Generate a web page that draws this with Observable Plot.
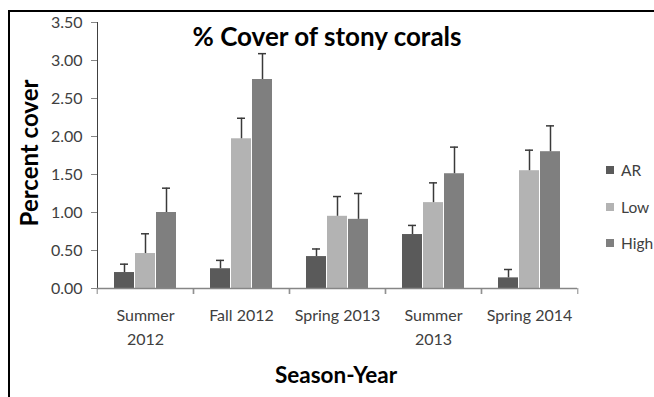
<!DOCTYPE html>
<html>
<head>
<meta charset="utf-8">
<script src="https://cdn.jsdelivr.net/npm/d3@7"></script>
<script src="https://cdn.jsdelivr.net/npm/@observablehq/plot@0.6"></script>
<style>
  html, body { margin: 0; padding: 0; background: #fff; }
  #wrap { position: relative; width: 654px; height: 397px; overflow: hidden; font-family: Lato, "Open Sans", sans-serif; }
  #frame { position: absolute; left: 8px; top: 10px; right: -5px; bottom: -5px; border-top: 2px solid #000; border-left: 2px solid #000; }
  #plot { position: absolute; left: 0; top: 0; }
  .ov { position: absolute; white-space: nowrap; line-height: 1; }
  #title { left: 0; width: 654px; text-align: center; top: 23px; font-size: 26px; font-weight: 700; color: #000; }
  #ylab { left: 29px; top: 153px; font-size: 24px; font-weight: 700; color: #000; transform: translate(-50%, -50%) rotate(-90deg); }
  #xlab { left: 336px; top: 375px; font-size: 22.5px; font-weight: 700; color: #000; transform: translate(-50%, -50%); }
  .leg { position: absolute; left: 606px; font-size: 15.5px; color: #404040; display: flex; align-items: center; transform: translateY(-50%); }
  .leg span.sw { display: inline-block; width: 8px; height: 8px; margin-right: 7px; }
</style>
</head>
<body>
<div id="wrap">
  <div id="frame"></div>
  <div id="plot"></div>
  <div id="title" class="ov"></div>
  <div id="ylab" class="ov"></div>
  <div id="xlab" class="ov"></div>
  <div id="legend"></div>
</div>
<script>
// ---- data ----
const titleText = "% Cover of stony corals";
const yLabel = "Percent cover";
const xLabel = "Season-Year";
const seasons = ["Summer 2012", "Fall 2012", "Spring 2013", "Summer 2013", "Spring 2014"];
const seasonTickLabels = ["Summer\n2012", "Fall 2012", "Spring 2013", "Summer\n2013", "Spring 2014"];
const series = ["AR", "Low", "High"];
const seriesColors = ["#5a5a5a", "#b3b3b3", "#7f7f7f"];
const arMean   = [0.21, 0.26, 0.42, 0.71, 0.14];
const arErr    = [0.11, 0.11, 0.10, 0.12, 0.11];
const lowMean  = [0.46, 1.97, 0.95, 1.13, 1.55];
const lowErr   = [0.26, 0.27, 0.26, 0.26, 0.27];
const highMean = [1.00, 2.75, 0.91, 1.51, 1.80];
const highErr  = [0.32, 0.34, 0.34, 0.35, 0.34];
const yTicks = [0, 0.5, 1, 1.5, 2, 2.5, 3, 3.5];

const means = {AR: arMean, Low: lowMean, High: highMean};
const errs = {AR: arErr, Low: lowErr, High: highErr};
const data = [];
seasons.forEach((s, i) => series.forEach(k => data.push({season: s, series: k, value: means[k][i], upper: means[k][i] + errs[k][i]})));

const W = 654, H = 397, mL = 95, mR = 76, mT = 22, mB = 109;
const bw = (W - mL - mR) / seasons.length;
const axisColor = "#868686";
const labelColor = "#404040";

const chart = Plot.plot({
  width: W, height: H,
  marginLeft: mL, marginRight: mR, marginTop: mT, marginBottom: mB,
  style: {fontFamily: "Lato, 'Open Sans', sans-serif", fontSize: "16px", color: labelColor, background: "transparent", overflow: "visible"},
  fx: {domain: seasons, padding: 0, label: null, axis: null},
  x: {domain: series, paddingInner: 0.04, paddingOuter: 0.75, axis: null},
  y: {domain: [0, 3.5], ticks: yTicks, tickFormat: d => d.toFixed(2), tickSize: 6, tickPadding: 9, label: null, line: true},
  color: {domain: series, range: seriesColors},
  marks: [
    Plot.barY(data, {fx: "season", x: "series", y: "value", fill: "series"}),
    Plot.ruleX(data, {fx: "season", x: "series", y1: "value", y2: "upper", stroke: "#3a3a3a", strokeWidth: 1.5}),
    Plot.tickY(data, {fx: "season", x: "series", y: "upper", stroke: "#3a3a3a", strokeWidth: 1.5, insetLeft: 6, insetRight: 6}),
    Plot.ruleY([0], {stroke: axisColor, strokeWidth: 1.5}),
    Plot.axisFx({anchor: "bottom", tickSize: 6, dx: -bw / 2, text: null, stroke: axisColor}),
    Plot.axisFx({anchor: "bottom", tickSize: 6, dx: bw / 2, text: null, stroke: axisColor}),
    Plot.axisFx({anchor: "bottom", tickSize: 0, tickPadding: 15, fontSize: 16, lineHeight: 1.5, color: labelColor, label: null,
      tickFormat: d => seasonTickLabels[seasons.indexOf(d)]})
  ]
});
// axis strokes in grey
chart.querySelectorAll('g[aria-label^="y-axis"]').forEach(g => {
  if (!/label/.test(g.getAttribute("aria-label"))) {
    g.setAttribute("stroke", axisColor);
    g.querySelectorAll("*").forEach(el => { if (el.getAttribute("stroke")) el.setAttribute("stroke", axisColor); });
  }
});
document.getElementById("plot").appendChild(chart);
document.getElementById("title").textContent = titleText;
document.getElementById("ylab").textContent = yLabel;
document.getElementById("xlab").textContent = xLabel;

const legendY = [170, 207, 243];
const legend = document.getElementById("legend");
series.forEach((s, i) => {
  const d = document.createElement("div");
  d.className = "leg";
  d.style.top = legendY[i] + "px";
  d.innerHTML = `<span class="sw" style="background:${seriesColors[i]}"></span><span>${s}</span>`;
  legend.appendChild(d);
});
</script>
</body>
</html>
